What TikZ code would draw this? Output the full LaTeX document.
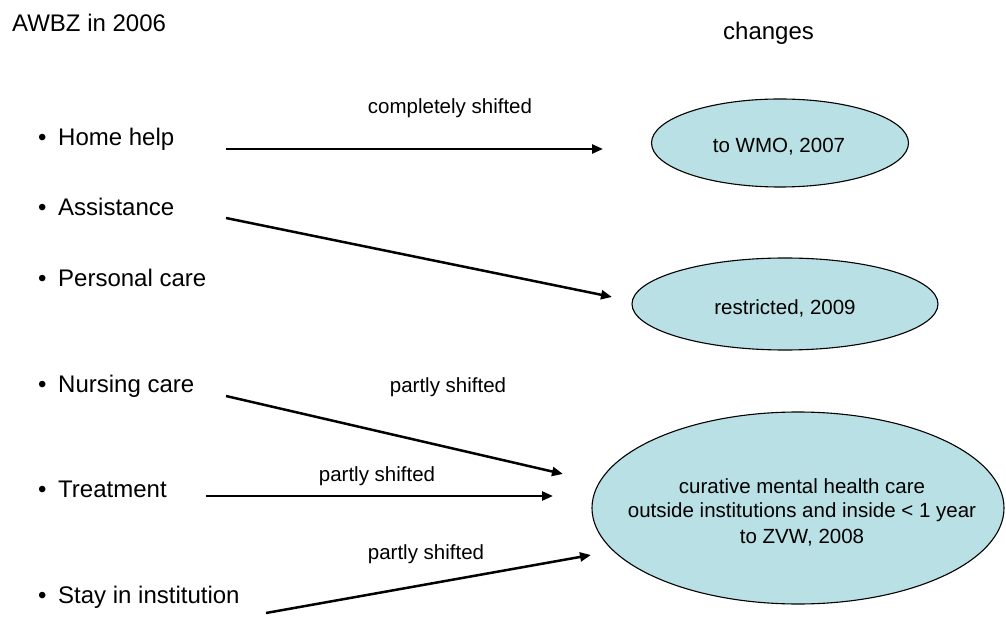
\documentclass[tikz,border=0pt]{standalone}
\usepackage{fontspec}
\setmainfont{Liberation Sans}
\usetikzlibrary{arrows.meta,shapes.geometric}
\definecolor{ellfill}{RGB}{185,224,228}
\tikzset{
  big/.style={inner sep=0pt, font=\fontsize{24}{28}\selectfont},
  small/.style={inner sep=0pt, font=\fontsize{20.5}{25}\selectfont},
  item/.style={big, anchor=base west},
  bul/.style={big, anchor=base west},
  lab/.style={small, anchor=base},
  oval/.style={ellipse, draw=black, line width=1.1pt, fill=ellfill, inner sep=0pt},
  conn/.style={line width=2.5pt, -{Triangle[length=11pt,width=9pt]}}
}
\begin{document}
\begin{tikzpicture}[x=1pt,y=-1pt]
\useasboundingbox (0,0) rectangle (1006,617);
% headings
\node[big, anchor=base west] (head) at (12,32) {AWBZ in 2006};
\node[big, anchor=base west] (chg) at (723,40) {changes};
% items
\foreach \y/\t/\n in {146/Home help/i1, 216/Assistance/i2, 287/Personal care/i3, 392/Nursing care/i4, 497/Treatment/i5, 603/Stay in institution/i6}{
  \node[bul] (b\n) at (38,\y) {•};
  \node[item] (\n) at (58,\y) {\t};
}
% ellipses
\node[oval, minimum width=257pt, minimum height=88pt] (e1) at (780,143) {};
\node[oval, minimum width=306pt, minimum height=92pt] (e2) at (785,304) {};
\node[oval, minimum width=412pt, minimum height=192pt] (e3) at (798,508) {};
\node[lab] (t1) at (779,153) {to WMO, 2007};
\node[lab] (t2) at (785,315) {restricted, 2009};
\node[lab] (t3a) at (802,493) {curative mental health care};
\node[lab] (t3b) at (802,517) {outside institutions and inside < 1 year};
\node[lab] (t3c) at (802,543) {to ZVW, 2008};
% connector end points
\coordinate (s1) at (226,149); \coordinate (d1) at (603,149);
\coordinate (s2) at (226,218); \coordinate (d2) at (612,297);
\coordinate (s4) at (226,396); \coordinate (d4) at (563,474);
\coordinate (s5) at (206,496); \coordinate (d5) at (553,496);
\coordinate (s6) at (266,613); \coordinate (d6) at (591,555);
\draw[conn] (s1) -- (d1);
\draw[conn] (s2) -- (d2);
\draw[conn] (s4) -- (d4);
\draw[conn] (s5) -- (d5);
\draw[conn] (s6) -- (d6);
% labels
\node[lab] (l1) at (450,114) {completely shifted};
\node[lab] (l4) at (448,392) {partly shifted};
\node[lab] (l5) at (377,481) {partly shifted};
\node[lab] (l6) at (426,559) {partly shifted};
\end{tikzpicture}
\end{document}
